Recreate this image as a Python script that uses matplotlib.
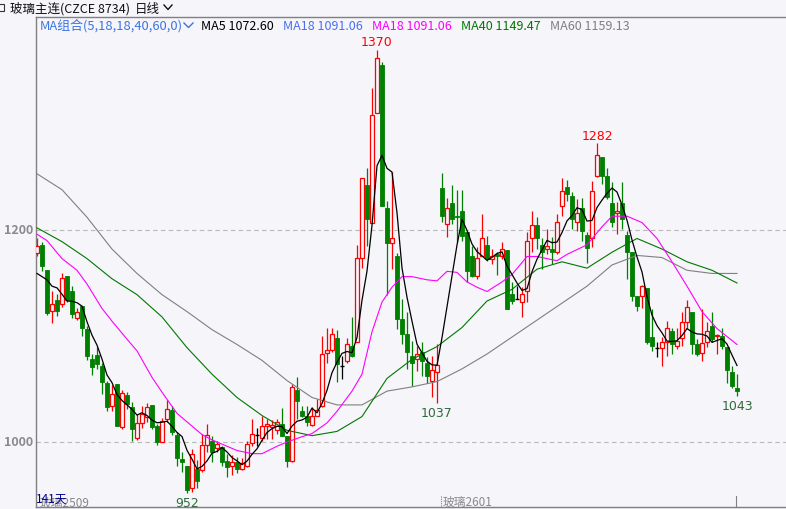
import numpy as np
import pandas as pd
import matplotlib.pyplot as plt
from matplotlib.patches import Rectangle
from matplotlib.lines import Line2D

plt.rcParams['font.family'] = ['Noto Sans CJK SC', 'DejaVu Sans']

# daily OHLC, 141 sessions (glass continuous contract)
opens = [1178, 1186, 1162, 1124, 1134, 1130, 1157, 1142, 1117, 1128,
         1107, 1078, 1082, 1072, 1056, 1034, 1055, 1014, 1044, 1033,
         1004, 1018, 1024, 1035, 1015, 1000, 1022, 1030, 1007, 984,
         977, 957, 975, 974, 997, 1001, 994, 995, 982, 977,
         981, 975, 977, 999, 1007, 1004, 1015, 1014, 1011, 1017,
         1006, 982, 1049, 1029, 1025, 1016, 1025, 1034, 1084, 1087,
         1098, 1072, 1076, 1091, 1094, 1174, 1242, 1207, 1310, 1356,
         1221, 1188, 1175, 1116, 1102, 1081, 1078, 1085, 1075, 1058,
         1066, 1240, 1206, 1225, 1213, 1218, 1198, 1175, 1157, 1175,
         1186, 1173, 1177, 1175, 1181, 1140, 1135, 1132, 1142, 1192,
         1205, 1186, 1182, 1182, 1179, 1223, 1241, 1232, 1208, 1221,
         1195, 1192, 1251, 1269, 1251, 1225, 1216, 1225, 1195, 1179,
         1138, 1138, 1145, 1099, 1089, 1089, 1094, 1105, 1091, 1098,
         1113, 1123, 1092, 1084, 1094, 1109, 1100, 1100, 1090, 1066,
         1051]
highs = [1192, 1189, 1162, 1142, 1140, 1159, 1157, 1147, 1126, 1128,
         1109, 1083, 1090, 1075, 1058, 1054, 1055, 1049, 1047, 1038,
         1026, 1034, 1037, 1035, 1017, 1023, 1040, 1034, 1009, 991,
         977, 993, 983, 1008, 1017, 1006, 1001, 996, 989, 988,
         986, 985, 1001, 1022, 1013, 1025, 1022, 1021, 1022, 1032,
         1006, 1055, 1061, 1034, 1034, 1033, 1041, 1100, 1108, 1108,
         1106, 1081, 1098, 1118, 1186, 1249, 1258, 1334, 1370, 1358,
         1227, 1255, 1178, 1135, 1123, 1095, 1091, 1094, 1080, 1081,
         1092, 1254, 1230, 1242, 1238, 1238, 1198, 1185, 1184, 1215,
         1194, 1182, 1179, 1189, 1181, 1151, 1147, 1146, 1198, 1218,
         1212, 1192, 1201, 1193, 1215, 1249, 1247, 1236, 1229, 1230,
         1198, 1246, 1282, 1269, 1258, 1245, 1226, 1245, 1199, 1179,
         1138, 1148, 1145, 1125, 1094, 1099, 1114, 1108, 1108, 1123,
         1134, 1123, 1097, 1125, 1113, 1123, 1102, 1108, 1090, 1072,
         1064]
lows = [1175, 1161, 1120, 1112, 1119, 1127, 1132, 1117, 1115, 1100,
        1077, 1063, 1069, 1045, 1029, 1029, 1015, 1012, 1031, 1001,
        1002, 1013, 1019, 1012, 997, 1000, 1019, 1007, 977, 972,
        952, 953, 957, 972, 991, 981, 991, 977, 967, 969,
        971, 974, 976, 996, 996, 1001, 1003, 1003, 1008, 1006,
        976, 981, 1022, 1024, 1015, 1015, 1025, 1033, 1075, 1085,
        1057, 1059, 1075, 1080, 1094, 1164, 1185, 1207, 1310, 1223,
        1139, 1163, 1107, 1092, 1069, 1053, 1067, 1062, 1056, 1042,
        1037, 1208, 1193, 1206, 1189, 1190, 1151, 1156, 1154, 1175,
        1171, 1168, 1158, 1173, 1125, 1130, 1135, 1118, 1132, 1179,
        1182, 1163, 1177, 1168, 1177, 1213, 1227, 1201, 1199, 1190,
        1169, 1184, 1250, 1243, 1229, 1203, 1196, 1201, 1154, 1133,
        1124, 1126, 1092, 1086, 1080, 1072, 1081, 1083, 1088, 1091,
        1108, 1083, 1081, 1076, 1090, 1094, 1083, 1088, 1056, 1051,
        1043]
closes = [1185, 1166, 1122, 1130, 1124, 1155, 1134, 1121, 1123, 1108,
          1081, 1071, 1074, 1057, 1033, 1045, 1015, 1046, 1036, 1012,
          1018, 1026, 1033, 1014, 1000, 1020, 1031, 1009, 985, 981,
          955, 989, 963, 997, 1007, 991, 998, 981, 976, 981,
          975, 980, 998, 1008, 1007, 1015, 1017, 1016, 1019, 1006,
          982, 1052, 1039, 1025, 1019, 1025, 1030, 1083, 1087, 1102,
          1074, 1072, 1092, 1081, 1174, 1249, 1210, 1308, 1362, 1223,
          1188, 1192, 1116, 1102, 1085, 1075, 1083, 1076, 1062, 1068,
          1073, 1213, 1221, 1210, 1212, 1194, 1161, 1157, 1174, 1192,
          1173, 1175, 1175, 1182, 1125, 1133, 1135, 1140, 1190, 1205,
          1192, 1179, 1185, 1179, 1208, 1237, 1234, 1210, 1216, 1199,
          1183, 1237, 1271, 1251, 1231, 1208, 1218, 1210, 1179, 1138,
          1128, 1147, 1094, 1091, 1089, 1094, 1108, 1092, 1095, 1113,
          1127, 1092, 1083, 1093, 1105, 1097, 1101, 1091, 1068, 1053,
          1048]

# MA5 for the first four sessions (needs history left of the window)
ma5_head = [1159, 1156, 1153, 1147]

# longer averages at these sessions
ma18_idx = [0, 2, 5, 8, 10, 13, 15, 18, 20, 23, 25, 28, 30, 33, 35, 38, 40, 43, 45, 48,
            50, 53, 55, 58, 60, 63, 65, 67, 69, 71, 73, 75, 78, 80, 82, 84, 86, 88, 90, 93,
            95, 98, 100, 104, 106, 110, 113, 115, 118, 121, 124, 127, 130, 133, 136, 140]
ma18 = [1196, 1190, 1173, 1162, 1149, 1126, 1114, 1097, 1086, 1061, 1047, 1027, 1019, 1007,
        1002, 996, 992, 989, 989, 996, 1000, 1005, 1008, 1018, 1029, 1048, 1064, 1104, 1132,
        1146, 1156, 1156, 1153, 1152, 1161, 1160, 1151, 1146, 1142, 1151, 1158, 1175, 1175,
        1171, 1177, 1186, 1203, 1213, 1213, 1207, 1192, 1170, 1147, 1123, 1107, 1092]
ma_idx = list(range(0, 141, 5))
ma40 = [1202, 1189, 1173, 1154, 1139, 1118, 1089, 1064, 1042, 1025, 1011, 1006, 1010, 1024,
        1060, 1078, 1090, 1108, 1133, 1144, 1163, 1170, 1164, 1179, 1192, 1182, 1170, 1162, 1150]
ma60 = [1253, 1238, 1212, 1182, 1159, 1139, 1123, 1106, 1092, 1077, 1058, 1042, 1035, 1035,
        1048, 1052, 1057, 1069, 1083, 1099, 1115, 1131, 1147, 1167, 1176, 1174, 1162, 1159, 1159]

# marked extremes: (session, text, colour, above/below)
marks = [(68, '1370', '#ff0000', 'bottom'),
         (112, '1282', '#ff0000', 'bottom'),
         (30, '952', '#2f6b3a', 'top'),
         (80, '1037', '#2f6b3a', 'top'),
         (140, '1043', '#2f6b3a', 'top')]

W, H = 786, 510
BG = '#f5f5fa'
UP, DOWN = '#ff0000', '#008000'

fig = plt.figure(figsize=(W / 100, H / 100), dpi=100, facecolor=BG)
ax = fig.add_axes([36 / W, 2 / H, 750 / W, 490 / H], facecolor=BG)
ax.set_xlim(-0.2, 149.8)
ax.set_ylim(938.7, 1400.9)


def fx(x):
    return x / W


def fy(y):
    return 1 - y / H


# candles
for i, (o, h, l, c) in enumerate(zip(opens, highs, lows, closes)):
    if c > o:
        ax.vlines(i, c, h, color=UP, lw=0.9)
        ax.vlines(i, l, o, color=UP, lw=0.9)
        ax.add_patch(Rectangle((i - 0.33, o), 0.66, c - o, facecolor=BG,
                               edgecolor=UP, lw=0.9, zorder=3))
    elif c < o:
        ax.vlines(i, l, h, color=DOWN, lw=0.9)
        ax.add_patch(Rectangle((i - 0.38, c), 0.76, max(o - c, 1.0), facecolor=DOWN,
                               edgecolor=DOWN, lw=0.6, zorder=3))
    else:
        ax.vlines(i, l, h, color='black', lw=0.9)
        ax.hlines(o, i - 0.4, i + 0.4, color='black', lw=1.0, zorder=3)

# moving averages
close_s = pd.Series(closes, dtype=float)
ma5 = close_s.rolling(5).mean()
ma5.iloc[:4] = ma5_head
ax.plot(ma_idx, ma60, color='#808080', lw=0.8, zorder=4)
ax.plot(ma_idx, ma40, color='#007800', lw=0.8, zorder=4)
ax.plot(ma18_idx, ma18, color='#ff00ff', lw=0.8, zorder=4)
ax.plot(np.arange(len(closes)), ma5, color='black', lw=0.9, zorder=5)

# grid lines at labelled levels
for lvl in (1000, 1200):
    ax.axhline(lvl, color='#b8b8b8', lw=0.8, ls=(0, (4, 3)), zorder=1)
    fig.text(fx(33), fy(443 - (lvl - 1000) * 1.06), str(lvl), ha='right', va='center',
             fontsize=9, color='#8a8a8a', fontweight='bold')

for i, t, col, va in marks:
    above = va == 'bottom'
    ax.annotate(t, (i, highs[i] if above else lows[i]), xytext=(0, 1 if above else -2),
                textcoords='offset points', ha='center', va=va, fontsize=9,
                color=col, family='DejaVu Sans')

ax.set_xticks([])
ax.set_yticks([])
for s in ('left', 'top', 'bottom'):
    ax.spines[s].set_color('#808080')
    ax.spines[s].set_linewidth(1.0)
ax.spines['right'].set_visible(False)

# header row
fig.add_artist(Rectangle((fx(-3), fy(12)), fx(7), 7 / H, fill=False,
                         edgecolor='#333333', lw=0.8, transform=fig.transFigure))
fig.text(fx(10), fy(9), '玻璃主连(CZCE 8734)', fontsize=9, color='#111111', va='center')
fig.text(fx(135), fy(9), '日线', fontsize=9, color='#111111', va='center')
fig.add_artist(Line2D([fx(164), fx(168), fx(172)], [fy(6), fy(10.5), fy(6)],
                      color='#111111', lw=1.0, transform=fig.transFigure))

# MA legend row
ty = fy(26)
fig.text(fx(40), ty, 'MA组合(5,18,18,40,60,0)', fontsize=9.3, color='#3d74e0', va='center')
fig.add_artist(Line2D([fx(184), fx(188.5), fx(193)], [fy(24), fy(28.5), fy(24)],
                      color='#3d74e0', lw=1.0, transform=fig.transFigure))
legend = [(201, 'MA5 1072.60', '#000000'),
          (283, 'MA18 1091.06', '#4a6ef5'),
          (372, 'MA18 1091.06', '#ff00ff'),
          (461, 'MA40 1149.47', '#007800'),
          (550, 'MA60 1159.13', '#808080')]
for x, t, col in legend:
    fig.text(fx(x), ty, t, fontsize=9, color=col, va='center')

# bottom strip
fig.text(fx(40), fy(503), '玻璃2509', fontsize=8.5, color='#8a8a8a', va='center')
fig.text(fx(36), fy(499), '141天', fontsize=8.5, color='#000090', va='center')
fig.text(fx(443), fy(502), '玻璃2601', fontsize=8.5, color='#8a8a8a', va='center')
fig.add_artist(Line2D([fx(440.5), fx(440.5)], [fy(497), fy(508)], color='#808080',
                      lw=0.8, ls=(0, (1, 1)), transform=fig.transFigure))
fig.add_artist(Line2D([fx(736), fx(736)], [fy(497), fy(508)], color='#808080',
                      lw=0.8, transform=fig.transFigure))

fig.savefig('out.png', dpi=100, facecolor=BG)
